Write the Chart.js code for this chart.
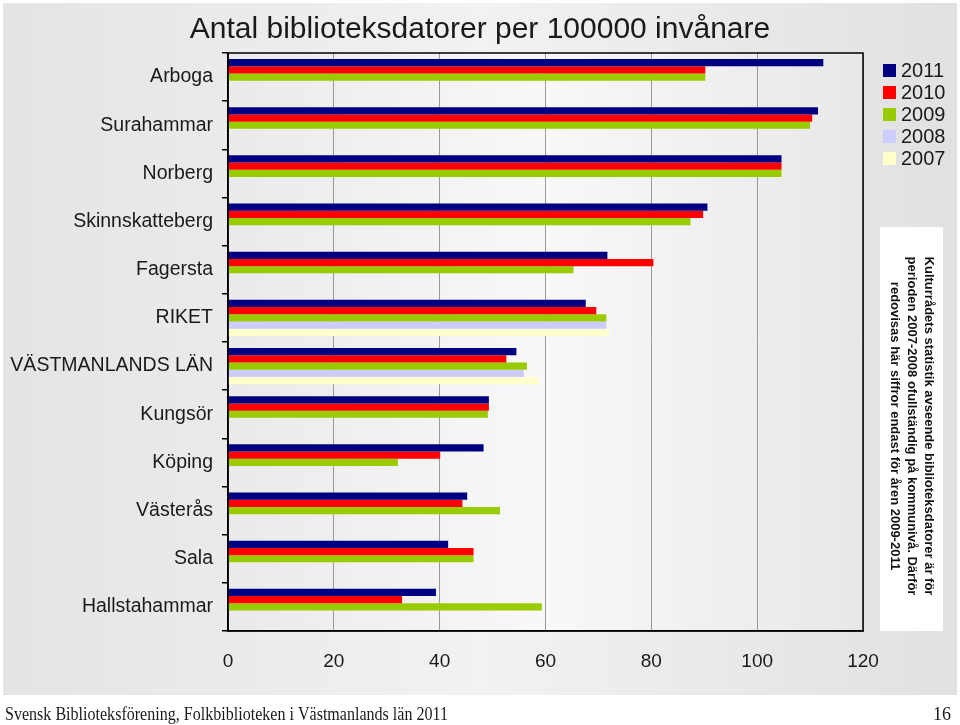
<!DOCTYPE html>
<html>
<head>
<meta charset="utf-8">
<script src="https://cdn.jsdelivr.net/npm/chart.js@4.4.0/dist/chart.umd.min.js"></script>
<style>
  html, body { margin: 0; padding: 0; background: #fff; }
</style>
</head>
<body>
<canvas id="chart" width="960" height="725"></canvas>
<script>
const categories = ['Arboga', 'Surahammar', 'Norberg', 'Skinnskatteberg', 'Fagersta', 'RIKET',
    'VÄSTMANLANDS LÄN', 'Kungsör', 'Köping', 'Västerås', 'Sala', 'Hallstahammar'];
const years = ['2011', '2010', '2009', '2008', '2007'];
const values2011 = [112.5, 111.5, 104.6, 90.6, 71.7, 67.6, 54.5, 49.3, 48.3, 45.2, 41.6, 39.3];
const values2010 = [90.2, 110.4, 104.6, 89.8, 80.4, 69.6, 52.6, 49.3, 40.1, 44.3, 46.4, 32.9];
const values2009 = [90.2, 110.0, 104.6, 87.4, 65.3, 71.5, 56.5, 49.1, 32.1, 51.4, 46.4, 59.3];
const values2008 = [null, null, null, null, null, 71.5, 55.9, null, null, null, null, null];
const values2007 = [null, null, null, null, null, 72.0, 58.7, null, null, null, null, null];
const xTicks = [0, 20, 40, 60, 80, 100, 120];

const titleText = 'Antal biblioteksdatorer per 100000 invånare';
const noteLines = [
    'Kulturrådets statistik avseende biblioteksdatorer är för',
    'perioden 2007-2008 ofullständig på kommunivå. Därför',
    'redovisas här siffror endast för åren 2009-2011'
];
const footerText = 'Svensk Biblioteksförening, Folkbiblioteken i Västmanlands län 2011';
const pageNumber = '16';

const barColors = ['#000080', '#ff0000', '#99cc00', '#ccccff', '#ffffcc'];
const seriesValues = [values2011, values2010, values2009, values2008, values2007];
const sansFont = '"Liberation Sans", Arial, sans-serif';

const pageDecor = {
    id: 'pageDecor',
    beforeDraw(chart) {
        const { ctx, chartArea: a } = chart;
        ctx.save();
        ctx.fillStyle = '#ffffff';
        ctx.fillRect(0, 0, chart.width, chart.height);

        let g = ctx.createLinearGradient(3, 0, 957, 0);
        g.addColorStop(0, '#e4e4e4');
        g.addColorStop(0.5, '#f2f2f2');
        g.addColorStop(1, '#e1e1e1');
        ctx.fillStyle = g;
        ctx.fillRect(3, 3, 954, 692);

        g = ctx.createLinearGradient(a.left, 0, a.right, 0);
        g.addColorStop(0, '#eaeaea');
        g.addColorStop(0.5, '#f8f8f8');
        g.addColorStop(1, '#e8e8e8');
        ctx.fillStyle = g;
        ctx.fillRect(a.left, a.top, a.width, a.height);
        ctx.restore();
    },
    afterDraw(chart) {
        const { ctx, chartArea: a } = chart;
        ctx.save();

        // frame round the plot
        ctx.strokeStyle = '#000';
        ctx.lineWidth = 1.5;
        ctx.strokeRect(a.left, a.top, a.width, a.height);

        // title
        ctx.fillStyle = '#1a1a1a';
        ctx.font = '30px ' + sansFont;
        ctx.textAlign = 'center';
        ctx.textBaseline = 'middle';
        ctx.fillText(titleText, 480, 30);

        // legend
        ctx.font = '20px ' + sansFont;
        ctx.textAlign = 'left';
        chart.data.datasets.forEach((ds, i) => {
            const y = 70 + i * 22;
            ctx.fillStyle = ds.backgroundColor;
            ctx.fillRect(883, y - 6, 13, 13);
            ctx.fillStyle = '#1a1a1a';
            ctx.fillText(ds.label, 901, y + 1);
        });

        // note box with rotated text
        ctx.fillStyle = '#ffffff';
        ctx.fillRect(880, 227, 63, a.bottom - 227);
        ctx.translate(912, 426);
        ctx.rotate(Math.PI / 2);
        ctx.fillStyle = '#111';
        ctx.font = 'bold 13px ' + sansFont;
        ctx.textAlign = 'center';
        noteLines.forEach((line, i) => {
            ctx.fillText(line, 0, (i - 1) * 17);
        });
        ctx.setTransform(1, 0, 0, 1, 0, 0);

        // footer
        ctx.fillStyle = '#1a1a1a';
        ctx.font = '18px "Liberation Serif", "DejaVu Serif", serif';
        ctx.textAlign = 'left';
        ctx.textBaseline = 'alphabetic';
        ctx.fillText(footerText, 5, 720, 443);
        ctx.textAlign = 'right';
        ctx.fillText(pageNumber, 951, 720);
        ctx.restore();
    }
};

new Chart(document.getElementById('chart'), {
    type: 'bar',
    data: {
        labels: categories,
        datasets: years.map((year, i) => ({
            label: year,
            data: seriesValues[i],
            backgroundColor: barColors[i],
            borderWidth: 0,
            categoryPercentage: 0.75,
            barPercentage: 1.0
        }))
    },
    options: {
        indexAxis: 'y',
        responsive: false,
        animation: false,
        devicePixelRatio: 1,
        layout: { padding: { top: 53, left: 0, right: 97, bottom: 30 } },
        plugins: {
            legend: { display: false },
            title: { display: false },
            tooltip: { enabled: false }
        },
        scales: {
            x: {
                min: 0,
                max: 120,
                afterBuildTicks: scale => { scale.ticks = xTicks.map(v => ({ value: v })); },
                afterFit: scale => { scale.height = 64; },
                grid: { color: '#999', lineWidth: 1, drawTicks: false },
                border: { color: '#000', width: 1.5 },
                ticks: {
                    color: '#1a1a1a',
                    padding: 19,
                    font: { size: 19, family: sansFont }
                }
            },
            y: {
                afterFit: scale => { scale.width = 228; },
                grid: { drawOnChartArea: false, drawTicks: true, tickLength: 6, color: '#000', lineWidth: 1.5 },
                border: { color: '#000', width: 1.5 },
                ticks: {
                    color: '#1a1a1a',
                    padding: 9,
                    font: { size: 19.5, family: sansFont }
                }
            }
        }
    },
    plugins: [pageDecor]
});
</script>
</body>
</html>
